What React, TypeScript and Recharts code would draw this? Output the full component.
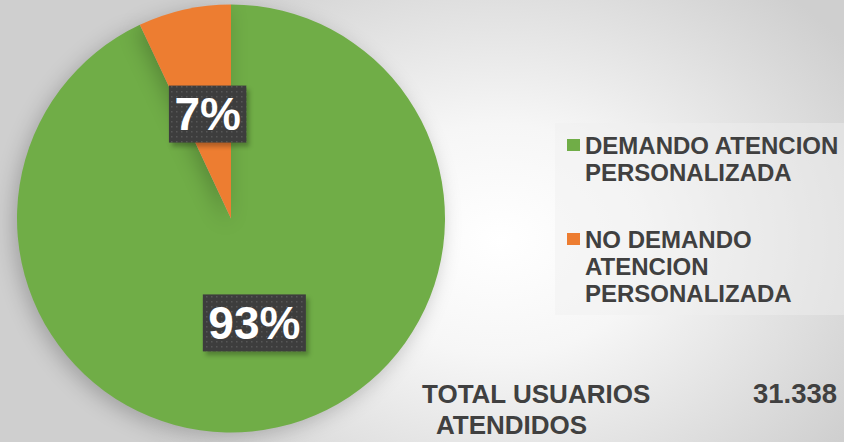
import React from 'react';
import { PieChart, Pie, Cell, Legend } from 'recharts';

const categories = ['DEMANDO ATENCION PERSONALIZADA', 'NO DEMANDO ATENCION PERSONALIZADA'];
const legendLines = [
  ['DEMANDO ATENCION', 'PERSONALIZADA'],
  ['NO DEMANDO', 'ATENCION', 'PERSONALIZADA'],
];
const values = [93, 7];
const colors = ['#70AD47', '#ED7D31'];
const totalLabel = ['TOTAL USUARIOS', 'ATENDIDOS'];
const totalValue = '31.338';

const data = categories.map((name, i) => ({ name, value: values[i], lines: legendLines[i] }));

const FONT = '"Liberation Sans", Arial, Helvetica, sans-serif';
const RAD = Math.PI / 180;

const renderLabel = (props: any) => {
  const { cx, cy, midAngle, outerRadius, percent, index } = props;
  const r = outerRadius * 0.5;
  const x = cx + r * Math.cos(-midAngle * RAD);
  const y = cy + r * Math.sin(-midAngle * RAD);
  const text = `${Math.round(percent * 100)}%`;
  const fs = 46;
  let w = 0;
  for (const ch of text) w += ch === '%' ? 0.889 : 0.556;
  const bw = w * fs + 11;
  const bh = 57;
  const pid = `dots-${index}`;
  return (
    <g>
      <defs>
        <pattern id={pid} x={0} y={0} width={5} height={5} patternUnits="userSpaceOnUse">
          <rect x={0} y={0} width={5} height={5} fill="#3d3d3d" />
          <rect x={1} y={1} width={1.5} height={1.5} fill="#575757" />
        </pattern>
      </defs>
      <rect x={x - bw / 2 + 3} y={y - bh / 2 + 4} width={bw} height={bh} fill="rgba(0,0,0,0.25)" style={{ filter: 'blur(2px)' }} />
      <rect x={x - bw / 2} y={y - bh / 2} width={bw} height={bh} fill={`url(#${pid})`} />
      <text x={x} y={y + 16} textAnchor="middle" fill="#ffffff" fontFamily={FONT} fontWeight="bold" fontSize={fs}>
        {text}
      </text>
    </g>
  );
};

const renderLegend = (props: any) => {
  const { payload } = props;
  return (
    <div style={{ fontFamily: FONT, fontWeight: 'bold', fontSize: 24, lineHeight: '27px', color: '#404040' }}>
      {(payload || []).map((p: any, i: number) => {
        const lines: string[] = p.payload?.lines || [p.value];
        return (
          <div key={i} style={{ position: 'relative', paddingLeft: 18, marginBottom: i === 0 ? 40 : 0 }}>
            <div style={{ position: 'absolute', left: 0, top: 7, width: 13, height: 12, background: p.color }} />
            {lines.map((l, j) => (
              <div key={j} style={{ whiteSpace: 'nowrap' }}>{l}</div>
            ))}
          </div>
        );
      })}
    </div>
  );
};

export default function App() {
  return (
    <div
      style={{
        position: 'absolute',
        left: 0,
        top: 0,
        width: 844,
        height: 442,
        overflow: 'hidden',
        background: 'radial-gradient(ellipse 430px 330px at 500px 240px, #ffffff 0%, #f6f6f6 35%, #cfcfcf 100%)',
      }}
    >
      <style>{`.recharts-pie-sector { filter: drop-shadow(-4px 5px 10px rgba(0,0,0,0.22)); }`}</style>
      <div
        style={{
          position: 'absolute',
          left: 555,
          top: 123,
          width: 289,
          height: 192,
          background: 'rgba(240,240,240,0.45)',
        }}
      />
      <PieChart width={844} height={442} margin={{ top: 0, right: 0, bottom: 0, left: 0 }} style={{ position: 'absolute', left: 0, top: 0 }}>
        <Pie
          data={data}
          dataKey="value"
          nameKey="name"
          cx={231}
          cy={218.5}
          outerRadius={214}
          startAngle={90}
          endAngle={-270}
          stroke="none"
          label={renderLabel}
          labelLine={false}
          isAnimationActive={false}
        >
          {data.map((d, i) => (
            <Cell key={d.name} fill={colors[i]} />
          ))}
        </Pie>
        <Legend
          layout="vertical"
          align="right"
          verticalAlign="top"
          content={renderLegend}
          wrapperStyle={{ position: 'absolute', left: 567, top: 132, width: 277 }}
        />
      </PieChart>
      <div style={{ position: 'absolute', left: 422, top: 379, fontFamily: FONT, fontWeight: 'bold', fontSize: 26, lineHeight: '31px', color: '#404040', whiteSpace: 'nowrap' }}>
        {totalLabel[0]}
      </div>
      <div style={{ position: 'absolute', left: 436, top: 410, fontFamily: FONT, fontWeight: 'bold', fontSize: 26, lineHeight: '31px', color: '#404040', whiteSpace: 'nowrap' }}>
        {totalLabel[1]}
      </div>
      <div style={{ position: 'absolute', left: 753, top: 378, fontFamily: FONT, fontWeight: 'bold', fontSize: 27.5, lineHeight: '31px', color: '#404040', whiteSpace: 'nowrap' }}>
        {totalValue}
      </div>
    </div>
  );
}
